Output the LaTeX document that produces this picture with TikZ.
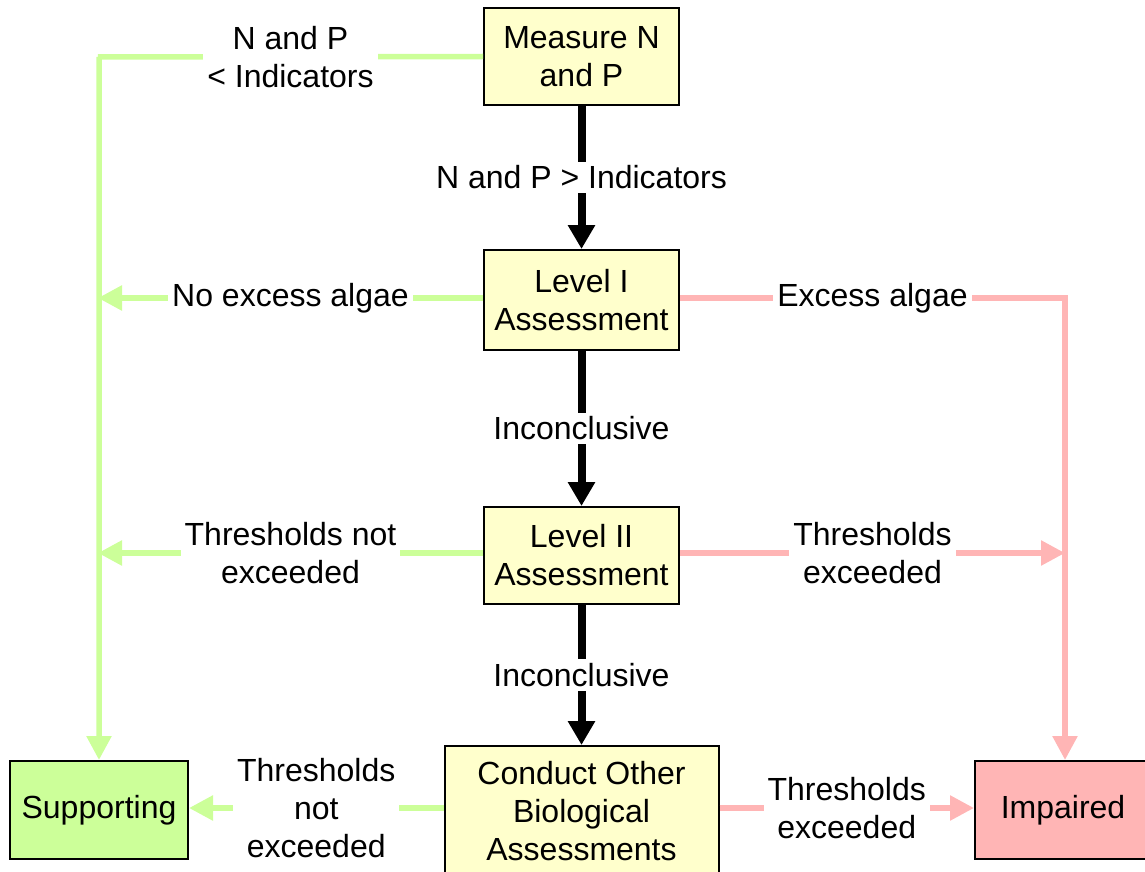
\documentclass[tikz,border=0pt]{standalone}
\usepackage{fontspec}
\setmainfont{Liberation Sans}
\usepackage{tikz}
\usetikzlibrary{arrows.meta}

\definecolor{boxyellow}{HTML}{FFFFCC}
\definecolor{okgreen}{HTML}{CCFF99}
\definecolor{badred}{HTML}{FFB5B5}

\begin{document}
\begin{tikzpicture}[
  x=1pt,y=-1pt,
  font=\fontsize{32}{38}\selectfont,
  box/.style={draw=black,line width=2pt,fill=boxyellow,align=center,inner sep=0pt},
  okbox/.style={box,fill=okgreen},
  badbox/.style={box,fill=badred},
  mainflow/.style={draw=black,line width=8pt,-{Triangle[length=24pt,width=26pt]}},
  okflow/.style={draw=okgreen,line width=5.5pt,-{Triangle[length=24pt,width=24pt]}},
  badflow/.style={draw=badred,line width=5.5pt,-{Triangle[length=24pt,width=24pt]}},
  lbl/.style={fill=white,align=center,inner sep=4pt,text=black}
]
  \useasboundingbox (0,0) rectangle (1145,872);

  % Boxes
  \node[box,minimum width=195pt,minimum height=97pt]  (measure)  at (581.5,56.5) {Measure N\\and P};
  \node[box,minimum width=195pt,minimum height=100pt] (levelone) at (581.5,300)  {Level I\\Assessment};
  \node[box,minimum width=195pt,minimum height=97pt]  (leveltwo) at (581.5,555.5) {Level II\\Assessment};
  \node[box,minimum width=274pt,minimum height=130pt] (other)    at (581.5,811)  {Conduct Other\\Biological\\Assessments};
  \node[okbox,minimum width=178pt,minimum height=98pt]  (supp)     at (99,810)    {Supporting};
  \node[badbox,minimum width=176pt,minimum height=98pt] (impaired) at (1063,810)  {Impaired};

  % Corner points
  \coordinate (gtop) at (98,57);
  \coordinate (rtop) at (1065,298);

  % Main flow
  \draw[mainflow] (measure) -- node[lbl]{N and P > Indicators} (levelone);
  \draw[mainflow] (levelone) -- node[lbl]{Inconclusive} (leveltwo);
  \draw[mainflow] (leveltwo) -- node[lbl]{Inconclusive} (other);

  % Supporting side
  \draw[okflow] (measure.west) -- node[lbl]{N and P\\< Indicators} (gtop) -- (gtop -| supp.north) -- (supp.north);
  \draw[okflow] (levelone.west |- 0,298) -- node[lbl]{No excess algae} (gtop |- 0,298);
  \draw[okflow] (leveltwo.west |- 0,553) -- node[lbl]{Thresholds not\\exceeded} (gtop |- 0,553);
  \draw[okflow] (other.west |- 0,808) -- node[lbl]{Thresholds\\not\\exceeded} (supp.east |- 0,808);

  % Impaired side
  \draw[badflow] (levelone.east |- 0,298) -- node[lbl]{Excess algae} (rtop) -- (rtop |- impaired.north);
  \draw[badflow] (leveltwo.east |- 0,553) -- node[lbl]{Thresholds\\exceeded} (rtop |- 0,553);
  \draw[badflow] (other.east |- 0,808) -- node[lbl]{Thresholds\\exceeded} (impaired.west |- 0,808);
\end{tikzpicture}
\end{document}
